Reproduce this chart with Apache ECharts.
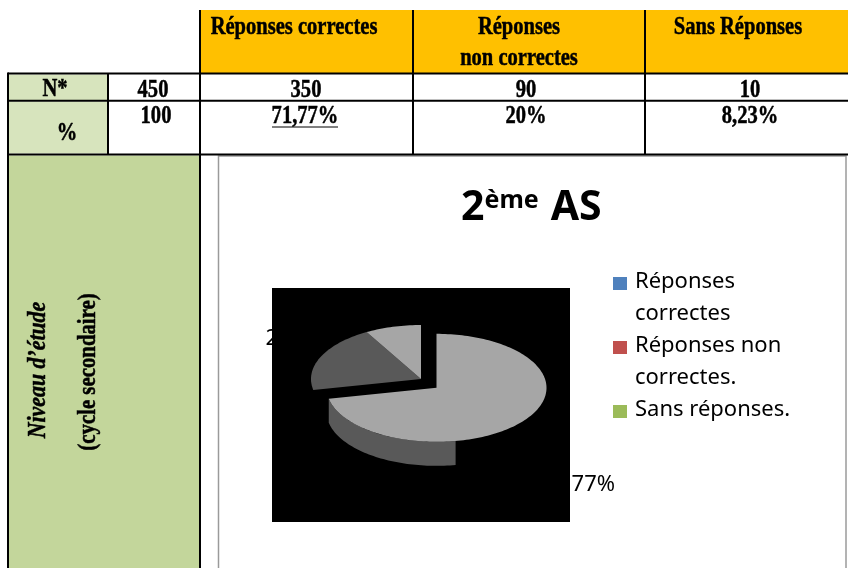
<!DOCTYPE html>
<html>
<head>
<meta charset="utf-8">
<script src="https://cdn.jsdelivr.net/npm/echarts@6/dist/echarts.min.js"></script>
<style>
  html, body { margin: 0; padding: 0; background: #fff; }
  #chart { width: 848px; height: 568px; }
</style>
</head>
<body>
<div id="chart"></div>
<script>
// ---- data ----
const categories = ['Réponses correctes', 'Réponses non correctes.', 'Sans réponses.'];
const headerLabels = ['Réponses correctes', 'Réponses\nnon correctes', 'Sans Réponses'];
const rowLabels = ['N*', '%'];
const rowTotals = ['450', '100'];
const counts = [350, 90, 10];
const percents = [71.77, 20, 8.23];
const sideLabels = ['Niveau d\u2019étude', '(cycle secondaire)'];
const titleParts = ['2', 'ème', 'AS'];

// ---- layout / styles ----
const legendColors = ['#4f81bd', '#c0504d', '#9bbb59'];
const sliceColors = ['#a6a6a6', '#595959', '#a6a6a6'];
const sideColor = '#595959';
const headerX = [294, 519, 738];
const valueX = [306, 526, 750];
const labelOffsets = [[104, 97, 'left'], [-112, -40, 'right'], [-10, -60, 'center']];
const pie = { cx: 421, cy: 379, rx: 110, ry: 54, depth: 24, sideFrom: 170, explode: [20, 14] };

const fmtPct = v => String(v).replace('.', ',') + '%';
const serif = 'Liberation Serif';
const sans = 'Noto Sans';

const total = percents.reduce((a, b) => a + b, 0);
const starts = [];
let acc = 0;
percents.forEach(v => { starts.push(acc / total * 360); acc += v; });

function pt(c, t, dy) {
  const r = t * Math.PI / 180;
  return [c[0] + pie.rx * Math.sin(r), c[1] - pie.ry * Math.cos(r) + (dy || 0)];
}
function arc(c, a0, a1, dy) {
  const out = [];
  const n = Math.max(2, Math.ceil((a1 - a0) / 1.5));
  for (let k = 0; k <= n; k++) out.push(pt(c, a0 + (a1 - a0) * k / n, dy));
  return out;
}
function sliceCenter(i, v) {
  if (i !== 0) return [pie.cx, pie.cy];
  const m = (starts[i] + v / total * 180) * Math.PI / 180;
  return [pie.cx + pie.explode[0] * Math.sin(m), pie.cy - pie.explode[1] * Math.cos(m)];
}

// ---- table drawn with graphic elements ----
function txt(text, x, y, o) {
  return Object.assign({
    type: 'text', x: x, y: y, scaleX: 0.79, z: 0,
    style: Object.assign({
      text: text, fill: '#000', fontFamily: serif, fontWeight: 'bold', fontSize: 26,
      align: 'center', verticalAlign: 'middle', lineHeight: 31,
      stroke: '#000', lineWidth: 0.5
    }, (o && o.style) || {})
  }, o && o.el);
}
function line(x1, y1, x2, y2, color, w) {
  return { type: 'line', z: 1, shape: { x1, y1, x2, y2 }, style: { stroke: color || '#000', lineWidth: w || 2 } };
}
function rect(x, y, w, h, fill, z) {
  return { type: 'rect', z: z || 0, shape: { x, y, width: w, height: h }, style: { fill: fill } };
}

const g = [];
g.push(rect(201, 10, 647, 63, '#ffc000'));
g.push(rect(9, 74.5, 98, 25.5, '#d7e4bd'));
g.push(rect(9, 101.5, 98, 52, '#d7e4bd'));
g.push(rect(9, 155.5, 190, 413, '#c3d69b'));
// chart area box
g.push({ type: 'rect', z: 0, shape: { x: 218.5, y: 156, width: 627.5, height: 420 },
  style: { fill: '#fff', stroke: '#9a9a9a', lineWidth: 1.5 } });

// grid lines
g.push(line(8, 73.5, 848, 73.5));
g.push(line(8, 100.7, 848, 100.7));
g.push(line(8, 154.5, 848, 154.5));
g.push(line(8, 72.5, 8, 568));
g.push(line(108, 73.5, 108, 154.5));
g.push(line(200, 10, 200, 568));
g.push(line(413, 10, 413, 154.5));
g.push(line(645, 10, 645, 154.5));

headerLabels.forEach((h, i) => {
  const lines = h.split('\n').length;
  g.push(txt(h, headerX[i], lines > 1 ? 42.5 : 27));
});
g.push(txt(rowLabels[0], 55, 89));
g.push(txt(rowLabels[1], 67, 133));
g.push(txt(rowTotals[0], 153, 90));
g.push(txt(rowTotals[1], 156, 116));
counts.forEach((c, i) => g.push(txt(String(c), valueX[i], 90)));
percents.forEach((p, i) => g.push(txt(fmtPct(p), valueX[i] - (i === 0 ? 1 : 0), 116)));
g.push(line(272, 127, 338, 127, '#000', 1));

// rotated side labels
g.push(txt(sideLabels[0], 38, 370, { el: { rotation: Math.PI / 2, scaleX: 0.84 }, style: { fontStyle: 'italic' } }));
g.push(txt(sideLabels[1], 88, 372, { el: { rotation: Math.PI / 2, scaleX: 0.8 } }));

// plot area (black)
g.push({ type: 'rect', z: 2, shape: { x: 272, y: 288, width: 298, height: 234 }, style: { fill: '#000' } });

// legend
categories.forEach((name, i) => {
  const y0 = 282 + 64 * i;
  g.push({ type: 'rect', z: 3, shape: { x: 613, y: y0 - 5, width: 14, height: 13 }, style: { fill: legendColors[i] } });
  g.push({ type: 'text', z: 3, x: 635, y: y0 - 16,
    style: { text: name, fill: '#000', fontFamily: sans, fontSize: 22, lineHeight: 32,
      width: 168, overflow: 'break', align: 'left', verticalAlign: 'top' } });
});

const chart = echarts.init(document.getElementById('chart'), null, { renderer: 'canvas' });
const seriesData = percents.map((v, i) => ({ name: categories[i], value: v }));

chart.setOption({
  animation: false,
  backgroundColor: '#fff',
  title: {
    text: `{a|${titleParts[0]}}{b|${titleParts[1]}}{s| }{a|${titleParts[2]}}`,
    left: 461, top: 188, padding: 0,
    textStyle: {
      rich: {
        a: { fontFamily: sans, fontWeight: 'bold', fontSize: 41, color: '#000' },
        b: { fontFamily: sans, fontWeight: 'bold', fontSize: 25, color: '#000', verticalAlign: 'top' },
        s: { fontFamily: sans, fontSize: 41, width: 12 }
      }
    }
  },
  graphic: { elements: g },
  series: [
    {
      // data labels, partly hidden behind the plot area
      type: 'custom', z: 1, coordinateSystem: 'none', silent: true,
      data: seriesData,
      renderItem: function (params, api) {
        const i = params.dataIndex;
        const v = api.value(0);
        const c = sliceCenter(i, v);
        const o = labelOffsets[i];
        return {
          type: 'text', x: c[0] + o[0], y: c[1] + o[1],
          style: { text: fmtPct(v), fill: '#000', fontFamily: sans, fontSize: 22, align: o[2], verticalAlign: 'middle' }
        };
      }
    },
    {
      type: 'custom', z: 3, coordinateSystem: 'none', silent: true,
      data: seriesData,
      renderItem: function (params, api) {
        const i = params.dataIndex;
        const v = api.value(0);
        const a0 = starts[i];
        const a1 = a0 + v / total * 360;
        const c = sliceCenter(i, v);
        const children = [];
        if (i === 0) {
          const s0 = Math.max(a0, pie.sideFrom);
          if (s0 < a1) {
            const top = arc(c, s0, a1, 0);
            const bot = arc(c, s0, a1, pie.depth).reverse();
            children.push({ type: 'polygon', shape: { points: top.concat(bot) }, style: { fill: sideColor } });
          }
        }
        children.push({ type: 'polygon', shape: { points: [c].concat(arc(c, a0, a1, 0)) }, style: { fill: sliceColors[i] } });
        return { type: 'group', children: children };
      }
    }
  ]
});
</script>
</body>
</html>
